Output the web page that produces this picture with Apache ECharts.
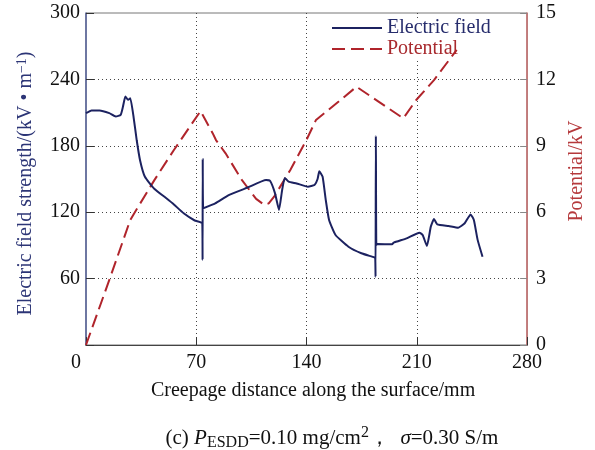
<!DOCTYPE html>
<html>
<head>
<meta charset="utf-8">
<script src="https://cdn.jsdelivr.net/npm/echarts@6/dist/echarts.min.js"></script>
<style>html,body{margin:0;padding:0;background:#fff;}#c{width:595px;height:450px;}</style>
</head>
<body>
<div id="c"></div>
<script>
// Electric field strength (kV/m) vs creepage distance (mm)
const fieldX = [0, 3.5, 8.6, 14.8, 18.9, 22, 23.4, 25, 26.7, 28.1, 30.2, 32.2, 34.3, 37.4, 43.5, 50.6, 55.8, 62, 69, 73.8, 74.0, 74.1, 74.3, 74.4, 82, 90.6, 103, 114.3, 116.9, 120, 122.5, 124.5, 126.2, 128.6, 133.7, 140.9, 145, 147, 148.1, 150.2, 152.2, 154.3, 158.4, 166.6, 174.8, 183, 183.6, 183.8, 184, 184.3, 185, 194.3, 195.3, 203.5, 211.7, 213.7, 216.4, 218.9, 220.9, 223, 230.2, 236.3, 240.4, 244.1, 246.2, 248.6, 251.7];
const fieldY = [209.5, 212, 212, 209.5, 206.5, 208, 215, 224.5, 221.5, 223, 206, 185, 167, 152, 141, 133, 127, 119, 112.5, 110, 77, 168, 168, 123.5, 128, 135.5, 142.5, 149, 148.2, 137, 122, 140, 151, 147.6, 146, 143, 144.6, 150, 157, 152, 131, 113, 99.4, 88.8, 82.9, 79.2, 78.5, 61.7, 188.8, 90.4, 91.3, 91, 92.5, 96.4, 101.5, 99.4, 89.5, 107, 113.9, 109, 107.5, 106, 110, 118, 113, 95, 79.8];
// Potential (kV) vs creepage distance (mm)
const potX = [0, 14.8, 28.1, 31.2, 43.5, 55.8, 72.7, 80.4, 82.5, 88.6, 98.9, 108, 113.2, 116, 119.4, 129.7, 139.9, 146, 160.4, 171.7, 201.4, 209.6, 220.9, 228.1, 235.3];
const potY = [0, 2.94, 5.65, 6.02, 7.46, 8.81, 10.57, 9.57, 9.26, 8.66, 7.46, 6.6, 6.33, 6.4, 6.7, 7.91, 9.26, 10.17, 11.0, 11.67, 10.24, 11.07, 11.97, 12.65, 13.33];
const xTicks = [0, 70, 140, 210, 280];
const leftTicks = [0, 60, 120, 180, 240, 300];
const rightTicks = [0, 3, 6, 9, 12, 15];

const FONT = '"Liberation Serif", "Times New Roman", serif';
const NAVY = '#1c2260';
const RED = '#b0242b';

const chart = echarts.init(document.getElementById('c'));
chart.setOption({
  backgroundColor: '#fff',
  animation: false,
  grid: { left: 86, right: 54, top: 13, bottom: 105, show: true, borderColor: '#777', borderWidth: 1, backgroundColor: 'transparent' },
  legend: {
    orient: 'vertical', left: 326, top: 18, z: 1, itemWidth: 50, itemHeight: 2, itemGap: 1,
    backgroundColor: '#fff', padding: [0, 6, 2, 6],
    textStyle: { fontFamily: FONT, fontSize: 20, lineHeight: 20 },
    data: [
      { name: 'Electric field', icon: 'path://M0,0H50V2H0Z', itemStyle: { color: NAVY }, textStyle: { color: '#262c6c' } },
      { name: 'Potential', icon: 'path://M0,0H13V2H0Z M19,0H32V2H19Z M38,0H50V2H38Z', itemStyle: { color: RED }, textStyle: { color: '#a82a2e' } }
    ]
  },
  title: {
    text: '(c) {i|P}{sub|ESDD}=0.10 mg/cm{sup|2}，  {i|σ}=0.30 S/m',
    left: 327, top: 420, textAlign: 'center',
    textStyle: {
      fontFamily: FONT, fontSize: 21, fontWeight: 'normal', color: '#111', lineHeight: 26,
      rich: {
        i: { fontFamily: FONT, fontSize: 21, fontStyle: 'italic', color: '#111' },
        sub: { fontFamily: FONT, fontSize: 16, color: '#111', verticalAlign: 'bottom', lineHeight: 16 },
        sup: { fontFamily: FONT, fontSize: 16, color: '#111', verticalAlign: 'top', lineHeight: 16 }
      }
    }
  },
  xAxis: {
    type: 'value', min: 0, max: 280, interval: 70,
    name: 'Creepage distance along the surface/mm', nameLocation: 'middle', nameGap: 36,
    nameTextStyle: { fontFamily: FONT, fontSize: 20, color: '#111', padding: [0, 0, 0, 13] },
    axisLine: { lineStyle: { color: '#444', width: 1.2 } },
    axisTick: { inside: true, length: 8, lineStyle: { color: '#333' } },
    axisLabel: {
      margin: 8, fontFamily: FONT, fontSize: 20, color: '#111',
      formatter: v => (xTicks.indexOf(v) === 0 ? '{z|' + v + '}' : String(v)),
      rich: { z: { fontFamily: FONT, fontSize: 20, color: '#111', padding: [0, 20, 0, 0] } }
    },
    splitLine: { show: true, showMinLine: false, showMaxLine: false, lineStyle: { type: [1, 3], color: '#444', width: 1 } }
  },
  yAxis: [
    {
      type: 'value', min: 0, max: 300, interval: 60, position: 'left',
      name: '{a|Electric field strength/(kV • m}{s|−1}{a|)}', nameLocation: 'middle', nameGap: 49, nameRotate: 90,
      nameTextStyle: {
        padding: [0, 9, 0, 0],
        rich: {
          a: { fontFamily: FONT, fontSize: 20, color: '#2c3576', lineHeight: 22 },
          s: { fontFamily: FONT, fontSize: 14, color: '#2c3576', verticalAlign: 'top', lineHeight: 14 }
        }
      },
      axisLine: { show: true, lineStyle: { color: '#55609a', width: 1.5 } },
      axisTick: { inside: true, length: 8, lineStyle: { color: '#333' } },
      axisLabel: { margin: 6, fontFamily: FONT, fontSize: 20, color: '#111', formatter: v => (v === leftTicks[0] ? '' : String(v)) },
      splitLine: { show: true, showMinLine: false, showMaxLine: false, lineStyle: { type: [1, 3], color: '#444', width: 1 } }
    },
    {
      type: 'value', min: 0, max: 15, interval: 3, position: 'right',
      name: 'Potential/kV', nameLocation: 'middle', nameGap: 28, nameRotate: 90,
      nameTextStyle: { fontFamily: FONT, fontSize: 20, color: '#b5393c', padding: [0, 0, 0, 16] },
      axisLine: { show: true, lineStyle: { color: '#c46a6a', width: 1.5 } },
      axisTick: { inside: true, length: 7, lineStyle: { color: '#888' } },
      axisLabel: { margin: 9, fontFamily: FONT, fontSize: 20, color: '#111', formatter: v => String(rightTicks[rightTicks.indexOf(v)]) },
      splitLine: { show: false }
    }
  ],
  series: [
    {
      name: 'Electric field', type: 'line', yAxisIndex: 0, symbol: 'none', z: 3, smooth: 0.15,
      data: fieldX.map((x, i) => [x, fieldY[i]]),
      lineStyle: { color: NAVY, width: 2 }, itemStyle: { color: NAVY }
    },
    {
      name: 'Potential', type: 'line', yAxisIndex: 1, symbol: 'none', z: 2,
      data: potX.map((x, i) => [x, potY[i]]),
      lineStyle: { color: RED, width: 2, type: [13, 6] }, itemStyle: { color: RED }
    }
  ]
});
</script>
</body>
</html>
